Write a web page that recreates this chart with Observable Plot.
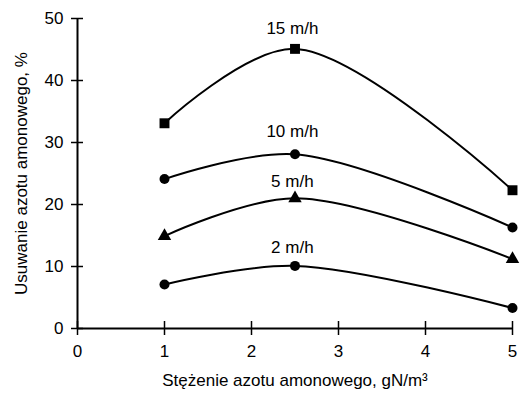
<!DOCTYPE html>
<html>
<head>
<meta charset="utf-8">
<script src="https://cdn.jsdelivr.net/npm/d3@7"></script>
<script src="https://cdn.jsdelivr.net/npm/@observablehq/plot@0.6"></script>
<style>
  html, body { margin: 0; padding: 0; background: white; }
</style>
</head>
<body>
<div id="chart"></div>
<script>
const xValues = [1, 2.5, 5];
const seriesNames = ["15 m/h", "10 m/h", "5 m/h", "2 m/h"];
const seriesSymbols = ["square", "circle", "triangle", "circle"];
const v15 = [33.1, 45.1, 22.3];
const v10 = [24.1, 28.1, 16.3];
const v5 = [14.9, 21.0, 11.2];
const v2 = [7.1, 10.1, 3.3];
const labelX = [2.47, 2.47, 2.47, 2.47];
const labelY = [48.3, 31.7, 23.7, 13.0];
const xTicks = [0, 1, 2, 3, 4, 5];
const yTicks = [0, 10, 20, 30, 40, 50];
const xTitle = "Stężenie azotu amonowego, gN/m³";
const yTitle = "Usuwanie azotu amonowego, %";

const allValues = [v15, v10, v5, v2];
const rows = [];
seriesNames.forEach((s, i) => {
  xValues.forEach((x, j) => rows.push({series: s, symbol: seriesSymbols[i], x, y: allValues[i][j]}));
});
const labels = seriesNames.map((s, i) => ({text: s, x: labelX[i], y: labelY[i]}));

const font = "'Liberation Sans', Arial, Helvetica, sans-serif";
const intFmt = d3.format("d");

const chart = Plot.plot({
  width: 529,
  height: 399,
  marginLeft: 77,
  marginRight: 17,
  marginTop: 18,
  marginBottom: 71,
  style: {fontFamily: font, fontSize: "17px", color: "black", background: "white"},
  x: {domain: [0, 5]},
  y: {domain: [0, 50]},
  marks: [
    Plot.axisX({ticks: xTicks, tickFormat: intFmt, tickSize: 7, tickPadding: 9, label: null, strokeWidth: 1.5, fontSize: 17}),
    Plot.axisX({ticks: xTicks, tickSize: 7, dy: -7, tickFormat: () => "", label: null, strokeWidth: 1.5}),
    Plot.axisY({ticks: yTicks, tickFormat: intFmt, tickSize: 6, tickPadding: 8, label: null, strokeWidth: 1.5, fontSize: 17}),
    Plot.axisY({ticks: yTicks, tickSize: 6, dx: 6, tickFormat: () => "", label: null, strokeWidth: 1.5}),
    Plot.ruleY([0], {stroke: "black", strokeWidth: 2}),
    Plot.ruleX([0], {stroke: "black", strokeWidth: 2}),
    Plot.line(rows, {x: "x", y: "y", z: "series", curve: "catmull-rom", stroke: "black", strokeWidth: 2}),
    Plot.dot(rows.filter(d => d.symbol === "square"), {x: "x", y: "y", symbol: "square", r: 5.6, fill: "black", stroke: "none"}),
    Plot.dot(rows.filter(d => d.symbol === "circle"), {x: "x", y: "y", symbol: "circle", r: 5, fill: "black", stroke: "none"}),
    Plot.dot(rows.filter(d => d.symbol === "triangle"), {x: "x", y: "y", symbol: "triangle", r: 5, fill: "black", stroke: "none"}),
    Plot.text(labels, {x: "x", y: "y", text: "text", fontSize: 17, fill: "black"}),
    Plot.text([xTitle], {frameAnchor: "bottom", dy: 57, fontSize: 17, fill: "black"}),
    Plot.text([yTitle], {frameAnchor: "left", textAnchor: "middle", dx: -56, rotate: -90, fontSize: 17, fill: "black"})
  ]
});
document.getElementById("chart").appendChild(chart);
</script>
</body>
</html>
